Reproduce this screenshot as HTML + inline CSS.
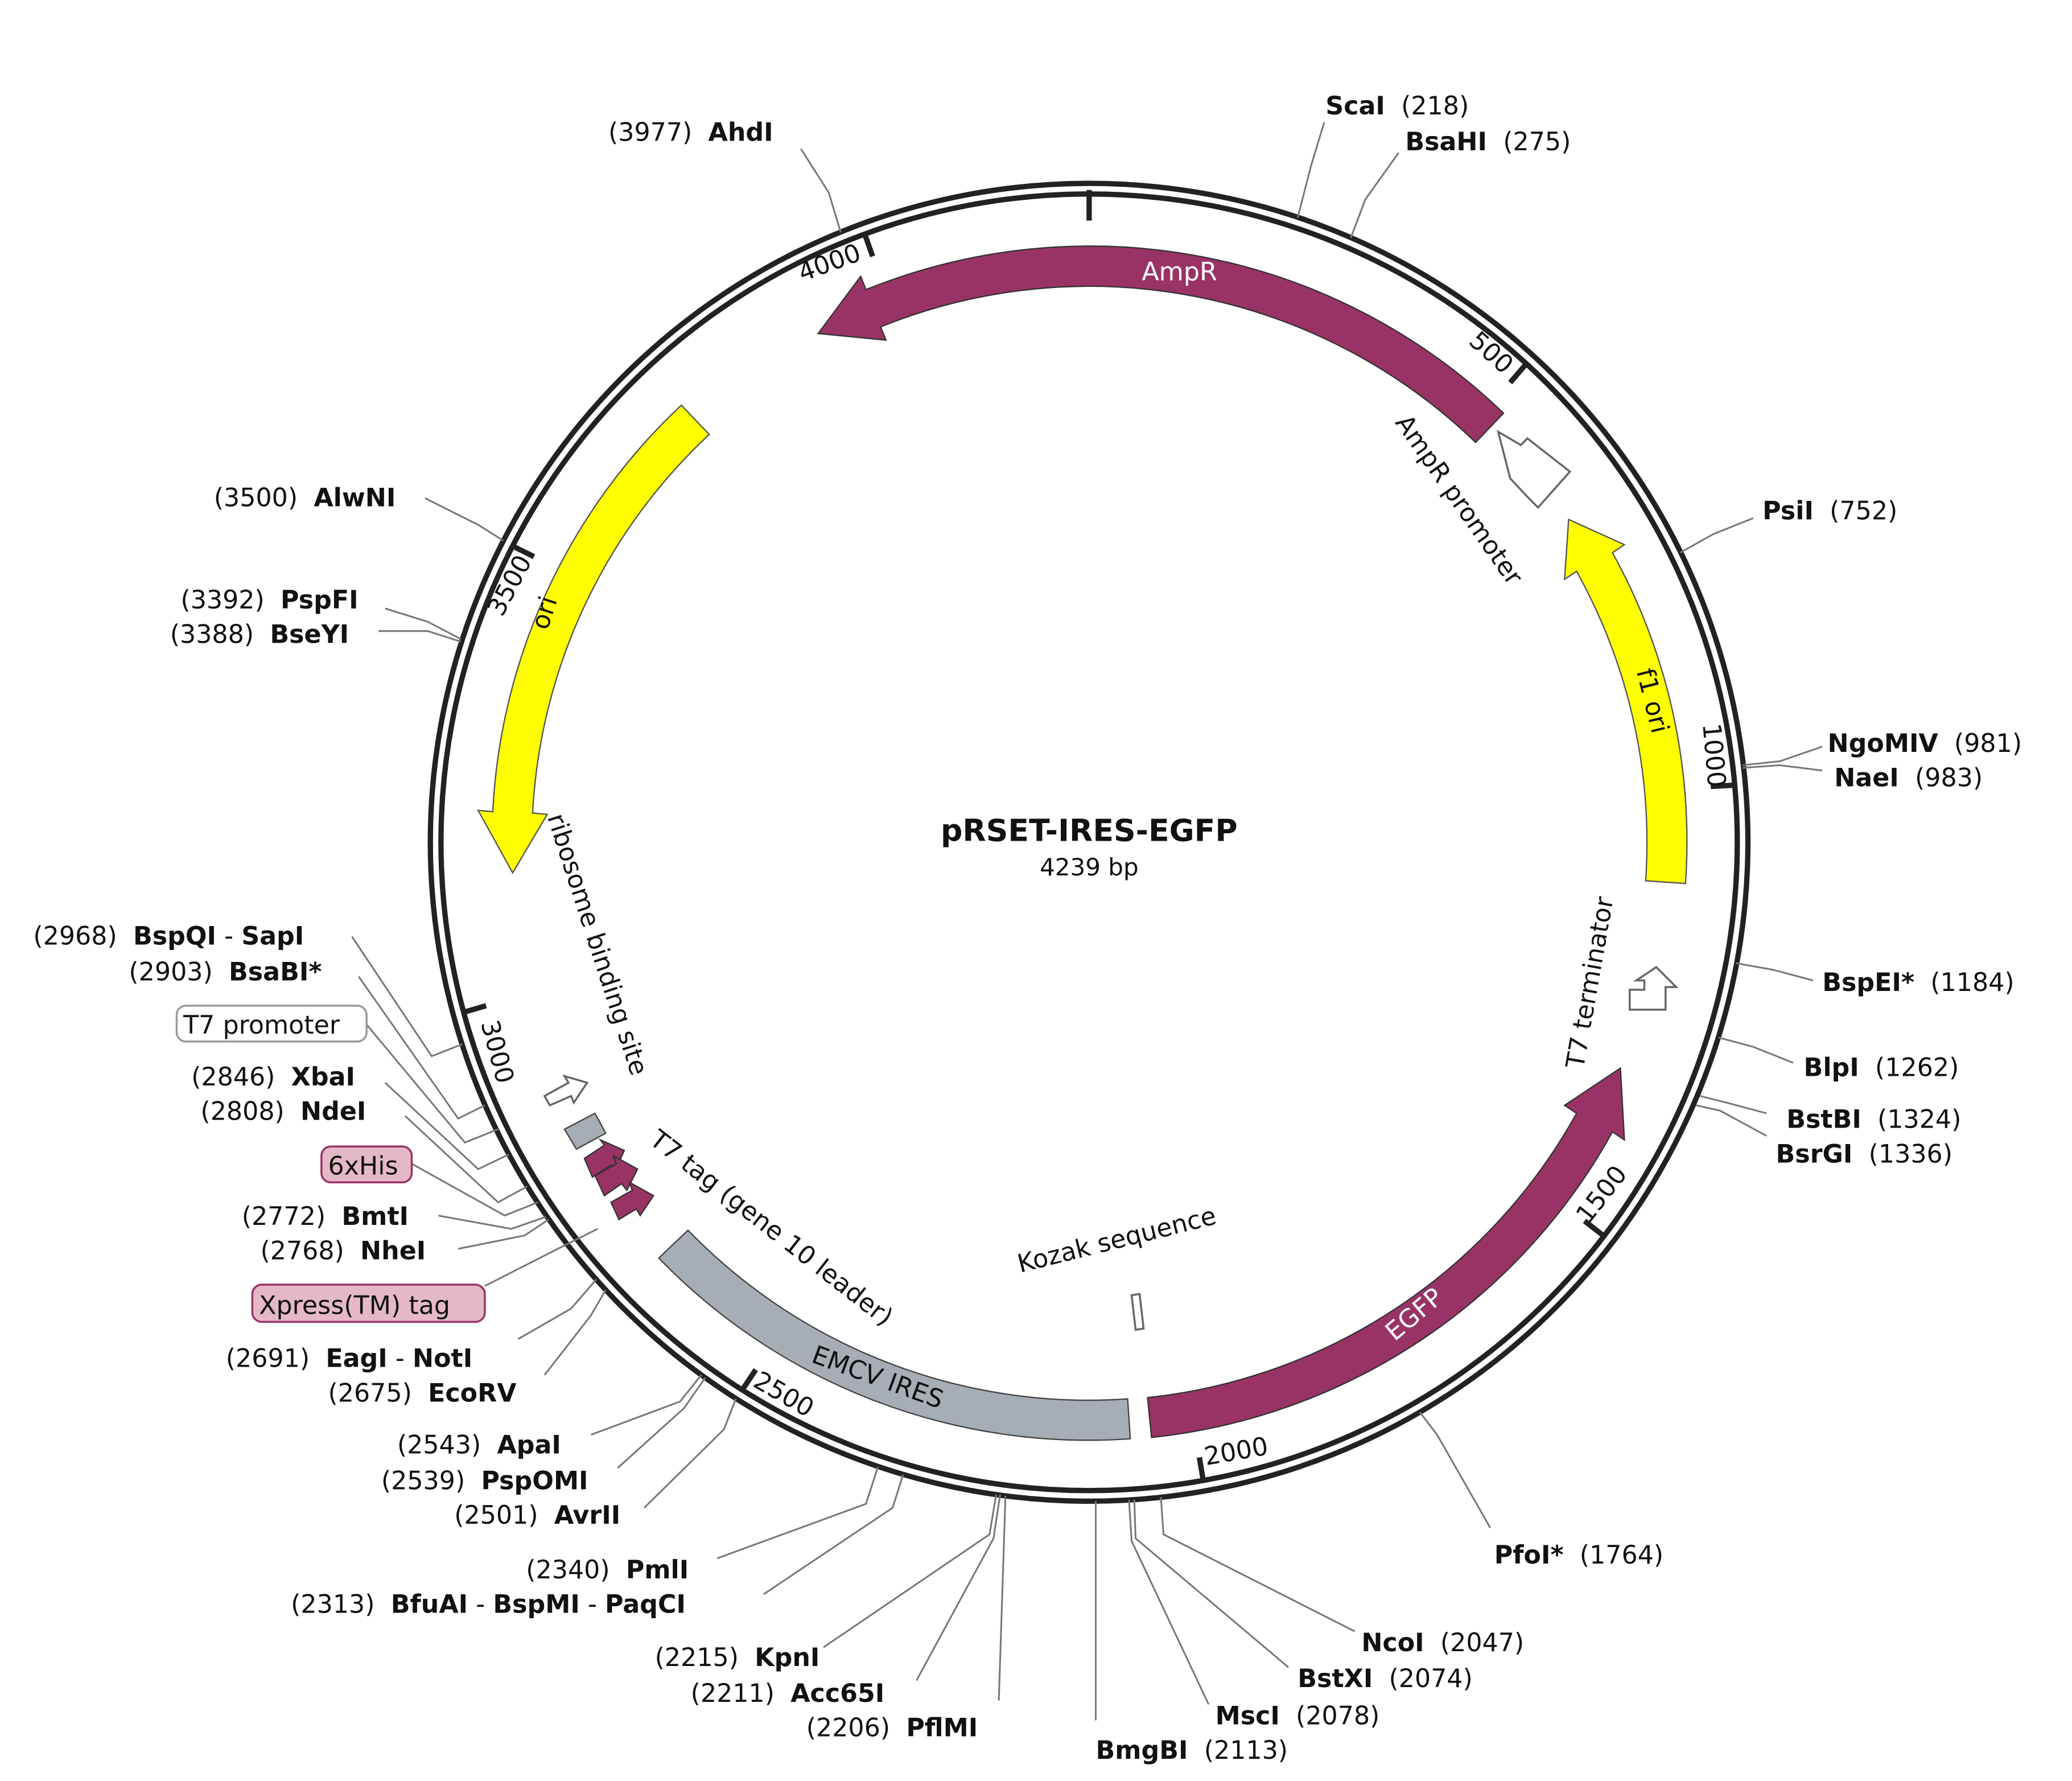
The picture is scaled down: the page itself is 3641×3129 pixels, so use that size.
<!DOCTYPE html>
<html><head><meta charset="utf-8"><style>
html,body{margin:0;padding:0;background:#fff}
svg{display:block}
text{font-family:"DejaVu Sans","Liberation Sans",sans-serif;font-size:19px;fill:#111}
.b{font-weight:bold}
.l{stroke:#777;stroke-width:1.3;fill:none}
</style></head><body>
<svg width="3641" height="3129" viewBox="0 0 1560 1340.6" xmlns="http://www.w3.org/2000/svg">
<rect width="1560" height="1341" fill="#fff"/>
<circle cx="820" cy="634" r="496" fill="none" stroke="#222" stroke-width="4"/>
<circle cx="820" cy="634" r="488" fill="none" stroke="#222" stroke-width="4"/>
<g stroke="#222" stroke-width="4">
<line x1="820" y1="143" x2="820" y2="166"/>
<line x1="1149" y1="274" x2="1137" y2="288"/>
<line x1="1306" y1="591" x2="1288" y2="592"/>
<line x1="1207" y1="930" x2="1193" y2="919"/>
<line x1="906" y1="1115" x2="903" y2="1097"/>
<line x1="559" y1="1046" x2="569" y2="1031"/>
<line x1="349" y1="762" x2="366" y2="757"/>
<line x1="386" y1="411" x2="402" y2="419"/>
<line x1="651" y1="176" x2="657" y2="193"/>
</g>
<text transform="translate(1105,258) rotate(42)">500</text>
<text transform="translate(1282,545) rotate(85)">1000</text>
<text transform="translate(1196,922) rotate(-52)">1500</text>
<text transform="translate(908,1103) rotate(-10)">2000</text>
<text transform="translate(566,1043) rotate(30)">2500</text>
<text transform="translate(362,770) rotate(75)">3000</text>
<text transform="translate(378,465) rotate(-62)">3500</text>
<text transform="translate(604,212) rotate(-20)">4000</text>

<path d="M1132,311 A449 449 0 0 0 652,218 L648,208 L616,251 L667,256 L663,246 A419 419 0 0 1 1111,333 Z" fill="#993366" stroke="#333" stroke-width="1"/>
<path d="M1269,665 A450 450 0 0 0 1214,416 L1223,410 L1181,391 L1178,436 L1187,430 A420 420 0 0 1 1239,663 Z" fill="#ffff00" stroke="#555" stroke-width="1"/>
<path d="M513,305 A450 450 0 0 0 371,611 L360,610 L386,657 L412,613 L401,612 A420 420 0 0 1 534,327 Z" fill="#ffff00" stroke="#555" stroke-width="1"/>
<path d="M867,1082 A450 450 0 0 0 1214,852 L1223,858 L1220,804 L1178,832 L1187,838 A420 420 0 0 1 864,1052 Z" fill="#993366" stroke="#333" stroke-width="1"/>
<path d="M851,1083 A450 450 0 0 1 496,947 L518,926 A420 420 0 0 0 849,1053 Z" fill="#a6adb5" stroke="#444" stroke-width="1"/>

<path d="M1128,325 L1145,335 L1150,330 L1182,355 L1158,382 L1150,374 L1137,360 Z" fill="#fff" stroke="#666" stroke-width="1.5"/>
<path d="M1227,745 L1238,745 L1238,738 L1232,738 L1247,728 L1262,743 L1254,743 L1254,760 L1227,760 Z" fill="#fff" stroke="#666" stroke-width="1.5"/>
<path d="M410,825 L428,815 L425,810 L442,815 L432,830 L430,825 L414,832 Z" fill="#fff" stroke="#666" stroke-width="1.5"/>
<path d="M425,850 L448,838 L456,853 L434,865 Z" fill="#a6adb5" stroke="#444" stroke-width="1"/>
<path d="M440,872 L455,862 L452,858 L470,866 L463,882 L460,877 L446,886 Z" fill="#993366" stroke="#333" stroke-width="1"/>
<path d="M448,885 L464,876 L462,870 L480,880 L472,896 L468,891 L455,900 Z" fill="#993366" stroke="#333" stroke-width="1"/>
<path d="M460,905 L476,896 L474,890 L492,900 L482,915 L479,910 L466,918 Z" fill="#993366" stroke="#333" stroke-width="1"/>
<path d="M852,975 L858,974 L861,1000 L855,1001 Z" fill="#fff" stroke="#666" stroke-width="1.5"/>

<text x="888" y="211" text-anchor="middle" style="fill:#fff">AmpR</text>
<text transform="translate(1232,505) rotate(76)">f1 ori</text>
<text transform="translate(412,475) rotate(-72)">ori</text>
<text transform="translate(1050,1010) rotate(-40)" style="fill:#fff">EGFP</text>
<text transform="translate(610,1025) rotate(20)">EMCV IRES</text>
<text transform="translate(1050,318) rotate(55)">AmpR promoter</text>
<text transform="translate(1192,805) rotate(-80)">T7 terminator</text>
<text transform="translate(412,615) rotate(72)">ribosome binding site</text>
<text transform="translate(488,860) rotate(38)">T7 tag (gene 10 leader)</text>
<text transform="translate(768,958) rotate(-14)">Kozak sequence</text>

<text x="820" y="633" text-anchor="middle" class="b" style="font-size:23px">pRSET-IRES-EGFP</text>
<text x="820" y="659" text-anchor="middle" style="font-size:18px">4239 bp</text>

<polyline class="l" points="633,175 624,145 603,112"/>
<polyline class="l" points="977,164 987,125 997,92"/>
<polyline class="l" points="1017,179 1028,150 1053,115"/>
<polyline class="l" points="1265,416 1290,402 1320,390"/>
<polyline class="l" points="1312,576 1340,573 1372,562"/>
<polyline class="l" points="1312,578 1340,576 1372,580"/>
<polyline class="l" points="1307,725 1335,730 1365,738"/>
<polyline class="l" points="1294,781 1320,788 1350,800"/>
<polyline class="l" points="1280,825 1300,830 1330,838"/>
<polyline class="l" points="1277,832 1295,836 1330,855"/>
<polyline class="l" points="1069,1063 1082,1080 1122,1150"/>
<polyline class="l" points="874,1127 876,1155 1020,1228"/>
<polyline class="l" points="854,1129 855,1158 970,1255"/>
<polyline class="l" points="850,1129 852,1160 910,1283"/>
<polyline class="l" points="825,1130 825,1295"/>
<polyline class="l" points="757,1126 752,1280"/>
<polyline class="l" points="753,1125 748,1158 690,1265"/>
<polyline class="l" points="750,1125 745,1155 620,1240"/>
<polyline class="l" points="680,1110 672,1135 575,1200"/>
<polyline class="l" points="661,1104 652,1132 540,1173"/>
<polyline class="l" points="554,1053 545,1076 485,1135"/>
<polyline class="l" points="531,1037 515,1060 465,1105"/>
<polyline class="l" points="528,1035 512,1055 445,1080"/>
<polyline class="l" points="456,971 445,990 410,1035"/>
<polyline class="l" points="449,963 430,985 390,1008"/>
<polyline class="l" points="450,925 420,940 365,968"/>
<polyline class="l" points="413,918 395,930 345,940"/>
<polyline class="l" points="411,916 385,925 330,915"/>
<polyline class="l" points="405,905 380,915 310,876"/>
<polyline class="l" points="397,893 375,905 305,840"/>
<polyline class="l" points="383,869 360,880 290,815"/>
<polyline class="l" points="375,850 350,860 275,770"/>
<polyline class="l" points="365,832 345,842 270,735"/>
<polyline class="l" points="348,786 325,795 265,705"/>
<polyline class="l" points="347,483 322,475 285,475"/>
<polyline class="l" points="347,481 322,468 290,458"/>
<polyline class="l" points="379,407 360,395 320,375"/>

<text x="458" y="106">(3977)&#160;&#160;<tspan class="b">AhdI</tspan></text>
<text x="998" y="86"><tspan class="b">ScaI</tspan>&#160;&#160;(218)</text>
<text x="1058" y="113"><tspan class="b">BsaHI</tspan>&#160;&#160;(275)</text>
<text x="1327" y="391"><tspan class="b">PsiI</tspan>&#160;&#160;(752)</text>
<text x="1376" y="566"><tspan class="b">NgoMIV</tspan>&#160;&#160;(981)</text>
<text x="1381" y="592"><tspan class="b">NaeI</tspan>&#160;&#160;(983)</text>
<text x="1372" y="746"><tspan class="b">BspEI*</tspan>&#160;&#160;(1184)</text>
<text x="1358" y="810"><tspan class="b">BlpI</tspan>&#160;&#160;(1262)</text>
<text x="1345" y="849"><tspan class="b">BstBI</tspan>&#160;&#160;(1324)</text>
<text x="1337" y="875"><tspan class="b">BsrGI</tspan>&#160;&#160;(1336)</text>
<text x="1125" y="1177"><tspan class="b">PfoI*</tspan>&#160;&#160;(1764)</text>
<text x="1025" y="1243"><tspan class="b">NcoI</tspan>&#160;&#160;(2047)</text>
<text x="977" y="1270"><tspan class="b">BstXI</tspan>&#160;&#160;(2074)</text>
<text x="915" y="1298"><tspan class="b">MscI</tspan>&#160;&#160;(2078)</text>
<text x="825" y="1324"><tspan class="b">BmgBI</tspan>&#160;&#160;(2113)</text>
<text x="607" y="1307">(2206)&#160;&#160;<tspan class="b">PflMI</tspan></text>
<text x="520" y="1281">(2211)&#160;&#160;<tspan class="b">Acc65I</tspan></text>
<text x="493" y="1254">(2215)&#160;&#160;<tspan class="b">KpnI</tspan></text>
<text x="219" y="1214">(2313)&#160;&#160;<tspan class="b">BfuAI</tspan> - <tspan class="b">BspMI</tspan> - <tspan class="b">PaqCI</tspan></text>
<text x="396" y="1188">(2340)&#160;&#160;<tspan class="b">PmlI</tspan></text>
<text x="342" y="1147">(2501)&#160;&#160;<tspan class="b">AvrII</tspan></text>
<text x="287" y="1121">(2539)&#160;&#160;<tspan class="b">PspOMI</tspan></text>
<text x="299" y="1094">(2543)&#160;&#160;<tspan class="b">ApaI</tspan></text>
<text x="247" y="1055">(2675)&#160;&#160;<tspan class="b">EcoRV</tspan></text>
<text x="170" y="1029">(2691)&#160;&#160;<tspan class="b">EagI</tspan> - <tspan class="b">NotI</tspan></text>
<rect x="190" y="967" width="175" height="28" rx="7" fill="#e5b8c8" stroke="#993366" stroke-width="1.5"/>
<text x="195" y="989">Xpress(TM) tag</text>
<text x="196" y="948">(2768)&#160;&#160;<tspan class="b">NheI</tspan></text>
<text x="182" y="922">(2772)&#160;&#160;<tspan class="b">BmtI</tspan></text>
<rect x="242" y="863" width="68" height="27" rx="7" fill="#e5b8c8" stroke="#993366" stroke-width="1.5"/>
<text x="247" y="884">6xHis</text>
<text x="151" y="843">(2808)&#160;&#160;<tspan class="b">NdeI</tspan></text>
<text x="144" y="817">(2846)&#160;&#160;<tspan class="b">XbaI</tspan></text>
<rect x="133" y="757" width="143" height="27" rx="7" fill="#fff" stroke="#999" stroke-width="1.5"/>
<text x="138" y="778">T7 promoter</text>
<text x="97" y="738">(2903)&#160;&#160;<tspan class="b">BsaBI*</tspan></text>
<text x="25" y="711">(2968)&#160;&#160;<tspan class="b">BspQI</tspan> - <tspan class="b">SapI</tspan></text>
<text x="128" y="484">(3388)&#160;&#160;<tspan class="b">BseYI</tspan></text>
<text x="136" y="458">(3392)&#160;&#160;<tspan class="b">PspFI</tspan></text>
<text x="161" y="381">(3500)&#160;&#160;<tspan class="b">AlwNI</tspan></text>
</svg>
</body></html>
